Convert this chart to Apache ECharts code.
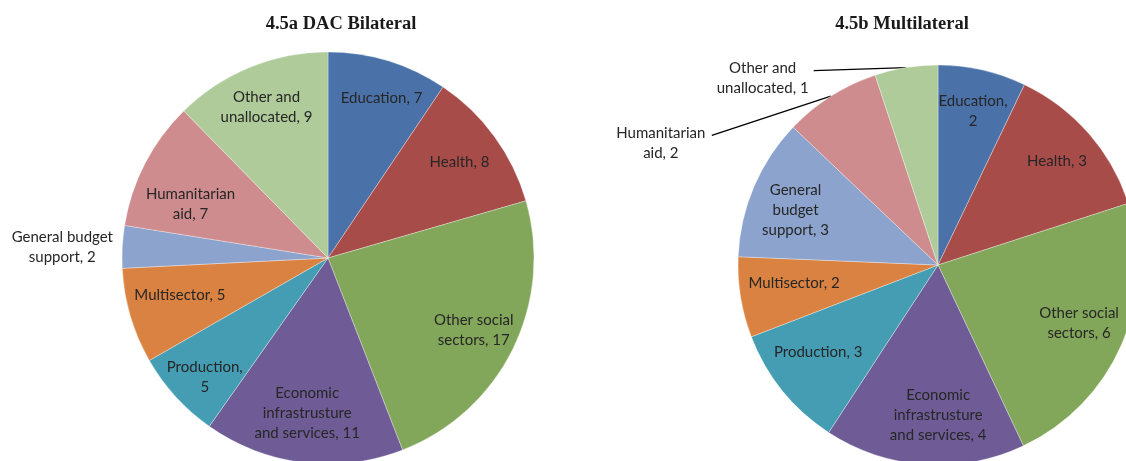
<!DOCTYPE html>
<html><head><meta charset="utf-8">
<script src="https://cdn.jsdelivr.net/npm/echarts@6/dist/echarts.min.js"></script>
<style>html,body{margin:0;padding:0;background:#fff}#c{width:1126px;height:461px}</style>
</head><body><div id="c"></div>
<script>
// ---- data ----
const categories = ['Education', 'Health', 'Other social sectors', 'Economic infrastrusture and services', 'Production', 'Multisector', 'General budget support', 'Humanitarian aid', 'Other and unallocated'];
const valuesA = [6.8, 8.0, 17.0, 11.3, 5.0, 5.4, 2.4, 7.3, 8.9];   // 4.5a DAC Bilateral
const valuesB = [1.86, 3.37, 6.0, 4.24, 2.6, 1.7, 2.99, 2.04, 1.33]; // 4.5b Multilateral
const titles = ['4.5a DAC Bilateral', '4.5b Multilateral'];
const labelFmtA = ['Education, {v}', 'Health, {v}', 'Other social\nsectors, {v}', 'Economic\ninfrastrusture\nand services, {v}', 'Production,\n{v}', 'Multisector, {v}', 'General budget\nsupport, {v}', 'Humanitarian\naid, {v}', 'Other and\nunallocated, {v}'];
const labelFmtB = ['Education,\n{v}', 'Health, {v}', 'Other social\nsectors, {v}', 'Economic\ninfrastrusture\nand services, {v}', 'Production, {v}', 'Multisector, {v}', 'General\nbudget\nsupport, {v}', 'Humanitarian\naid, {v}', 'Other and\nunallocated, {v}'];
const outsideA = [6];
const outsideB = [7, 8];

// ---- styles ----
const colors = ['#4A72A9', '#A84C4A', '#83A75A', '#6F5C96', '#449DB3', '#DA8241', '#8BA3CD', '#CF8C8E', '#AECB99'];
const FONT = 'Lato, "Open Sans", sans-serif';
const FS = 15, LH = 20, TXT = '#262626';
// small label nudges (px) to mimic the original's best-fit placement
const nudgeA = { 0: [6, -4], 3: [-1, -6], 4: [-3, 10], 5: [8, -9], 7: [7, 21] };
const nudgeB = { 3: [11, -7], 4: [3, -12], 5: [12, -7], 6: [3, 7], 2: [-4, -5] };

function fillText(tpl, v) { return tpl.replace('{v}', Math.round(v)); }

function makePie(values, fmt, outside, center, R, lineCfg, richWidth, nudge, layoutFn) {
  const main = {
    type: 'pie', center: center, radius: R, startAngle: 90, clockwise: true,
    avoidLabelOverlap: false, silent: true, animation: false,
    itemStyle: { borderColor: 'rgba(255,255,255,0.55)', borderWidth: 0.6 },
    label: {
      position: 'outside', distanceToLabelLine: 4,
      formatter: p => fillText(fmt[p.dataIndex], p.value).split('\n').map(s => '{c|' + s + '}').join('\n'),
      rich: { c: { width: richWidth, align: 'center', fontSize: FS, lineHeight: LH, fontFamily: FONT, color: TXT } }
    },
    labelLine: { lineStyle: { color: '#000', width: 1.3 }, smooth: false },
    data: categories.map((n, i) => {
      const isOut = outside.includes(i);
      const cfg = lineCfg[i] || {};
      return {
        name: n, value: values[i],
        itemStyle: { color: colors[i] },
        label: { show: isOut },
        labelLine: { show: isOut && cfg.show !== false, length: cfg.length || 0, length2: cfg.length2 || 0 }
      };
    })
  };
  if (layoutFn) main.labelLayout = layoutFn;
  const overlay = {
    type: 'pie', center: center, radius: [R * 0.55, R], startAngle: 90, clockwise: true,
    avoidLabelOverlap: false, silent: true, animation: false,
    itemStyle: { color: 'rgba(0,0,0,0)', borderWidth: 0 },
    label: {
      position: 'inside', fontSize: FS, lineHeight: LH, fontFamily: FONT, color: TXT, align: 'center',
      formatter: p => fillText(fmt[p.dataIndex], p.value)
    },
    labelLine: { show: false },
    data: categories.map((n, i) => ({
      name: n, value: values[i],
      label: { show: !outside.includes(i), offset: nudge[i] || [0, 0] }
    }))
  };
  return [main, overlay];
}

const seriesA = makePie(valuesA, labelFmtA, outsideA, [328, 258], 206,
  { 6: { show: false, length: 1, length2: 2 } }, 106, nudgeA, null);
const seriesB = makePie(valuesB, labelFmtB, outsideB, [938, 265], 200,
  { 7: { length: 2, length2: 118 }, 8: { length: 3, length2: 92 } }, 94, nudgeB,
  function (p) {
    if (!p.labelLinePoints) return;
    const pts = p.labelLinePoints;
    const end = pts[pts.length - 1];
    if (p.dataIndex === 7) {
      const shift = 49;
      return { dy: shift, labelLinePoints: [pts[0], pts[0], [end[0], end[1] + shift - 8]] };
    }
    if (p.dataIndex === 8) {
      const shift = 14;
      return { dy: shift, labelLinePoints: [pts[0], pts[0], [end[0], end[1] + shift - 8]] };
    }
  });

const TITLE_STYLE = { fontFamily: '"Liberation Serif", "Times New Roman", serif', fontWeight: 'bold', fontSize: 18.5, color: '#1a1a1a' };
const chart = echarts.init(document.getElementById('c'), null, { renderer: 'canvas' });
chart.setOption({
  backgroundColor: '#fff',
  animation: false,
  title: [
    { text: titles[0], left: 336, top: 10, textAlign: 'center', textStyle: TITLE_STYLE },
    { text: titles[1], left: 897, top: 10, textAlign: 'center', textStyle: TITLE_STYLE }
  ],
  series: seriesA.concat(seriesB)
});
</script>
</body></html>
